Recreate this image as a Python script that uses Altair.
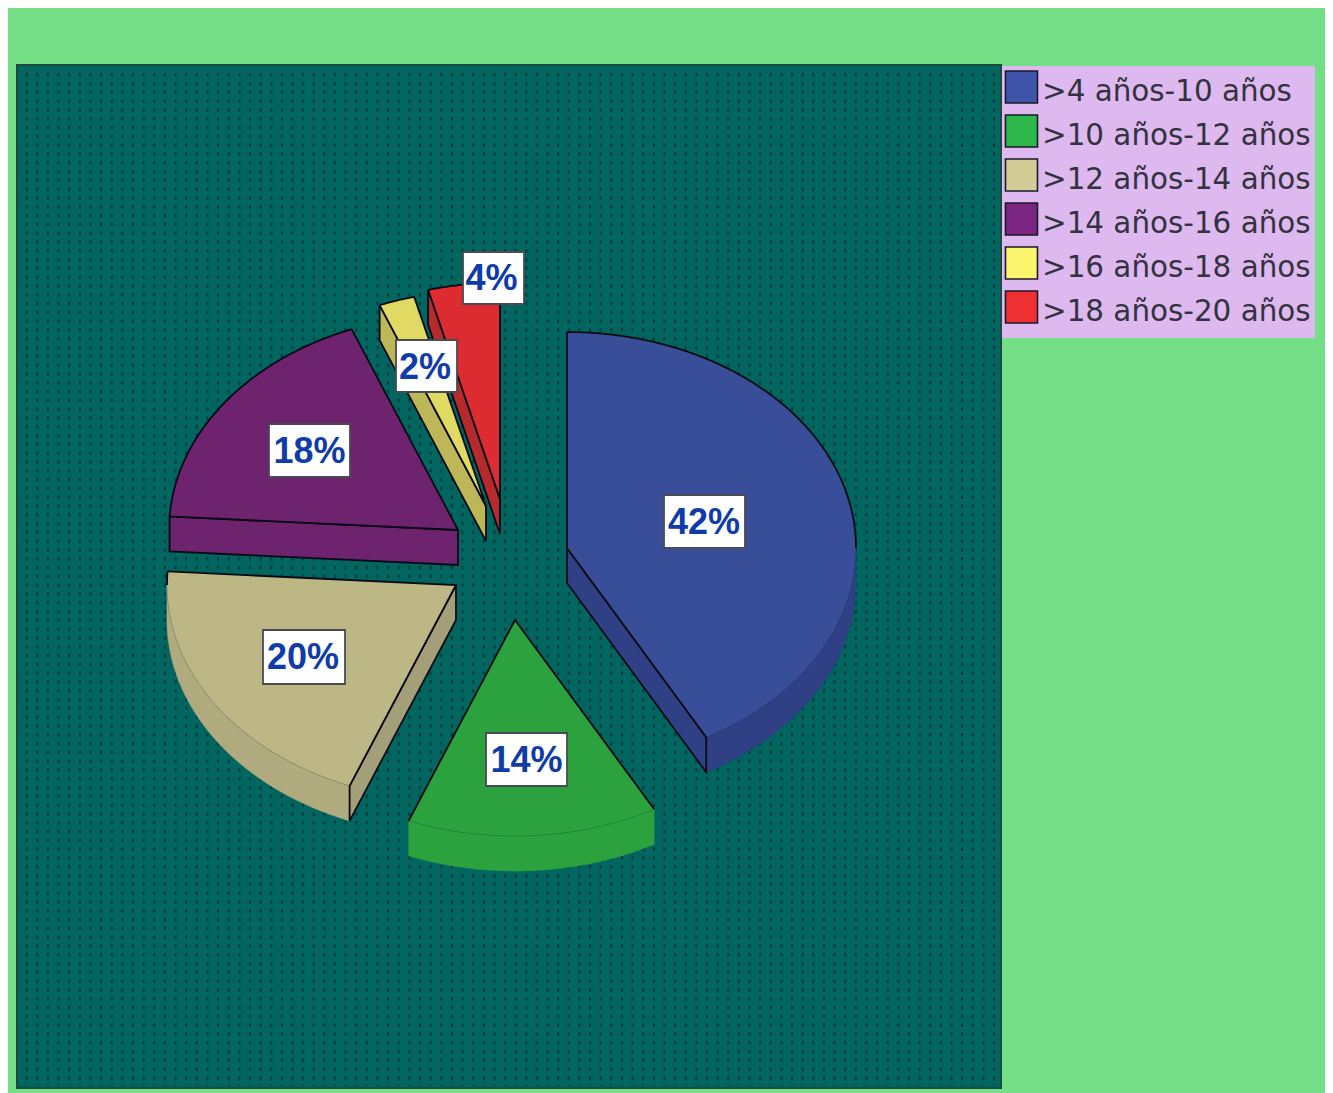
import math
import altair as alt

# --- data
categories = [">4 años-10 años", ">10 años-12 años", ">12 años-14 años",
              ">14 años-16 años", ">16 años-18 años", ">18 años-20 años"]
values = [42, 14, 20, 18, 2, 4]
legend_colors = ["#3F54A8", "#2DB84B", "#D3CC96", "#7A2580", "#FAF56D", "#EE3033"]
top_colors = ["#384E99", "#2CA23F", "#BDB786", "#6E236E", "#E0DA62", "#DC2B31"]
wall_colors = ["#2F4085", "#2CA23F", "#B0AA7F", "#6E236E", "#BDB757", "#B52A2D"]
face_colors = ["#2F4085", "#2CA23F", "#A39F78", "#6E236E", "#BDB757", "#B52A2D"]

# --- layout (page pixels): where each exploded slice has its apex, label box centre
apex = [(567, 548), (515, 620), (456, 585), (458, 530), (486, 506), (500, 499)]
label_centre = [(704.5, 521.5), (526.5, 759.5), (304, 657), (309.5, 450.5), (426.5, 366), (493.5, 278)]
label_size = [(81, 53), (81, 53), (82, 54), (81, 53), (61, 52), (61, 52)]
text_nudge = [(-0.5, 0), (0, 0), (-1, 0), (0, 0), (-1.5, 1), (-2, 0)]
RX, RY, DEPTH = 289, 216, 35
PAGE = 8
W, H = 1317, 1085
FRAME = (17, 65, 1001, 1088)
LEGEND_BOX = (1002, 66, 1315, 338)
EDGE = "#0a0a14"


def pt(c, a, drop=0):
    r = math.radians(a)
    return (c[0] + RX * math.sin(r), c[1] - RY * math.cos(r) + drop)


def arc(c, a0, a1, drop=0):
    n = max(2, int(abs(a1 - a0) * 2))
    return [pt(c, a0 + (a1 - a0) * i / n, drop) for i in range(n + 1)]


def poly(coords, fill, stroke="transparent", sw=0.0):
    ring = [list(p) for p in coords] + [list(coords[0])]
    return {"type": "Feature", "geometry": {"type": "Polygon", "coordinates": [ring]},
            "properties": {"fill": fill, "stroke": stroke, "sw": sw}}


def line(coords, stroke, sw):
    return {"type": "Feature", "geometry": {"type": "LineString", "coordinates": [list(p) for p in coords]},
            "properties": {"fill": "transparent", "stroke": stroke, "sw": sw}}


def rect(b, fill, stroke="transparent", sw=0.0):
    return poly([(b[0], b[1]), (b[2], b[1]), (b[2], b[3]), (b[0], b[3])], fill, stroke, sw)


# slice angles from the values
angles = []
acc = 0
total = sum(values)
for v in values:
    angles.append((acc * 360 / total, (acc + v) * 360 / total))
    acc += v

slices = {}
for i, (a0, a1) in enumerate(angles):
    c = apex[i]
    f = []
    # outer wall (front half only)
    w0, w1 = max(a0, 90), min(a1, 270)
    if w1 > w0:
        f.append(poly(arc(c, w0, w1) + arc(c, w1, w0, DEPTH), wall_colors[i], wall_colors[i], 0.5))
    # radial faces
    for a, vis in ((a0, 180 < a0 < 360), (a1, 0 < a1 < 180)):
        if vis:
            p = pt(c, a)
            f.append(poly([c, p, (p[0], p[1] + DEPTH), (c[0], c[1] + DEPTH)], face_colors[i], EDGE, 1.8))
    # top face
    f.append(poly([c] + arc(c, a0, a1), top_colors[i]))
    # edges of the top face
    f.append(line([pt(c, a0), c, pt(c, a1)], EDGE, 1.8))
    b0, b1 = max(a0, 270), a1
    if b1 > b0:
        f.append(line(arc(c, b0, b1), EDGE, 1.8))
    b0, b1 = a0, min(a1, 90)
    if b1 > b0:
        f.append(line(arc(c, b0, b1), EDGE, 1.8))
    w0, w1 = max(a0, 90), min(a1, 270)
    if w1 > w0:
        f.append(line(arc(c, w0, w1), "#00000030", 0.8))
    slices[i] = f

# dotted texture of the plot frame
dot_cols = [26.7 + 10.63 * k for k in range(92)]
dots = {"type": "Feature",
        "geometry": {"type": "MultiLineString",
                     "coordinates": [[[x, FRAME[1] + 8], [x, FRAME[3] - 2]] for x in dot_cols]},
        "properties": {"fill": "transparent", "stroke": "#063C42", "sw": 2.2}}

back = [rect(FRAME, "#00665F")]
frame_line = [rect(FRAME, "transparent", "#1B4A3E", 2.0), rect(LEGEND_BOX, "#DDB9EF")]

shapes = []
for i in [5, 4, 3, 2, 1, 0]:
    shapes += slices[i]
boxes = [rect((x - w / 2, y - h / 2, x + w / 2, y + h / 2), "white", "#4A4A52", 1.8)
         for (x, y), (w, h) in zip(label_centre, label_size)]

proj = dict(type="identity", scale=1, translate=[-PAGE, -PAGE])


def geo(features, **mark):
    return (alt.Chart(alt.Data(values=features))
            .mark_geoshape(**mark)
            .encode(fill=alt.Fill("properties.fill:N", scale=None, legend=None),
                    stroke=alt.Stroke("properties.stroke:N", scale=None, legend=None),
                    strokeWidth=alt.StrokeWidth("properties.sw:Q", scale=None, legend=None))
            .project(**proj))


labels = [{"t": f"{v}%", "lon": x + n[0], "lat": y + 1 + n[1]}
          for v, (x, y), n in zip(values, label_centre, text_nudge)]
text = (alt.Chart(alt.Data(values=labels))
        .mark_text(font="Liberation Sans", fontWeight="bold", fontSize=36, color="#0F3CA8",
                   align="center", baseline="middle")
        .encode(longitude="lon:Q", latitude="lat:Q", text="t:N")
        .project(**proj))

legend_rows = [{"c": c, "lon": -500, "lat": -500} for c in categories]
legend_layer = (alt.Chart(alt.Data(values=legend_rows))
                .mark_square(size=1024, opacity=1, filled=True)
                .encode(longitude="lon:Q", latitude="lat:Q",
                        color=alt.Color("c:N",
                                        scale=alt.Scale(domain=categories, range=legend_colors),
                                        sort=categories,
                                        legend=alt.Legend(title=None, orient="none",
                                                          legendX=LEGEND_BOX[0] - PAGE + 2.5,
                                                          legendY=LEGEND_BOX[1] - PAGE + 9,
                                                          padding=0, offset=0,
                                                          symbolType="M-1,-1.31 H1 V0.69 H-1 Z", symbolSize=1024,
                                                          symbolStrokeColor="#1a1a2a",
                                                          symbolStrokeWidth=1.6, symbolOffset=0,
                                                          labelFont="DejaVu Sans", labelFontSize=29.4,
                                                          labelColor="#333340", labelOffset=3.5,
                                                          labelLimit=400, rowPadding=4)))
                .project(**proj))

dash_layer = geo([dots], filled=False, strokeDash=[3.5, 5.3])

chart = (alt.layer(geo(back), dash_layer, geo(frame_line), geo(shapes), geo(boxes), text, legend_layer)
         .properties(width=W, height=H, background="#74DF86", padding=0,
                     autosize=alt.AutoSizeParams(type="none"))
         .configure_view(stroke=None))

chart.save("out.html", embed_options={"renderer": "svg", "actions": False})
